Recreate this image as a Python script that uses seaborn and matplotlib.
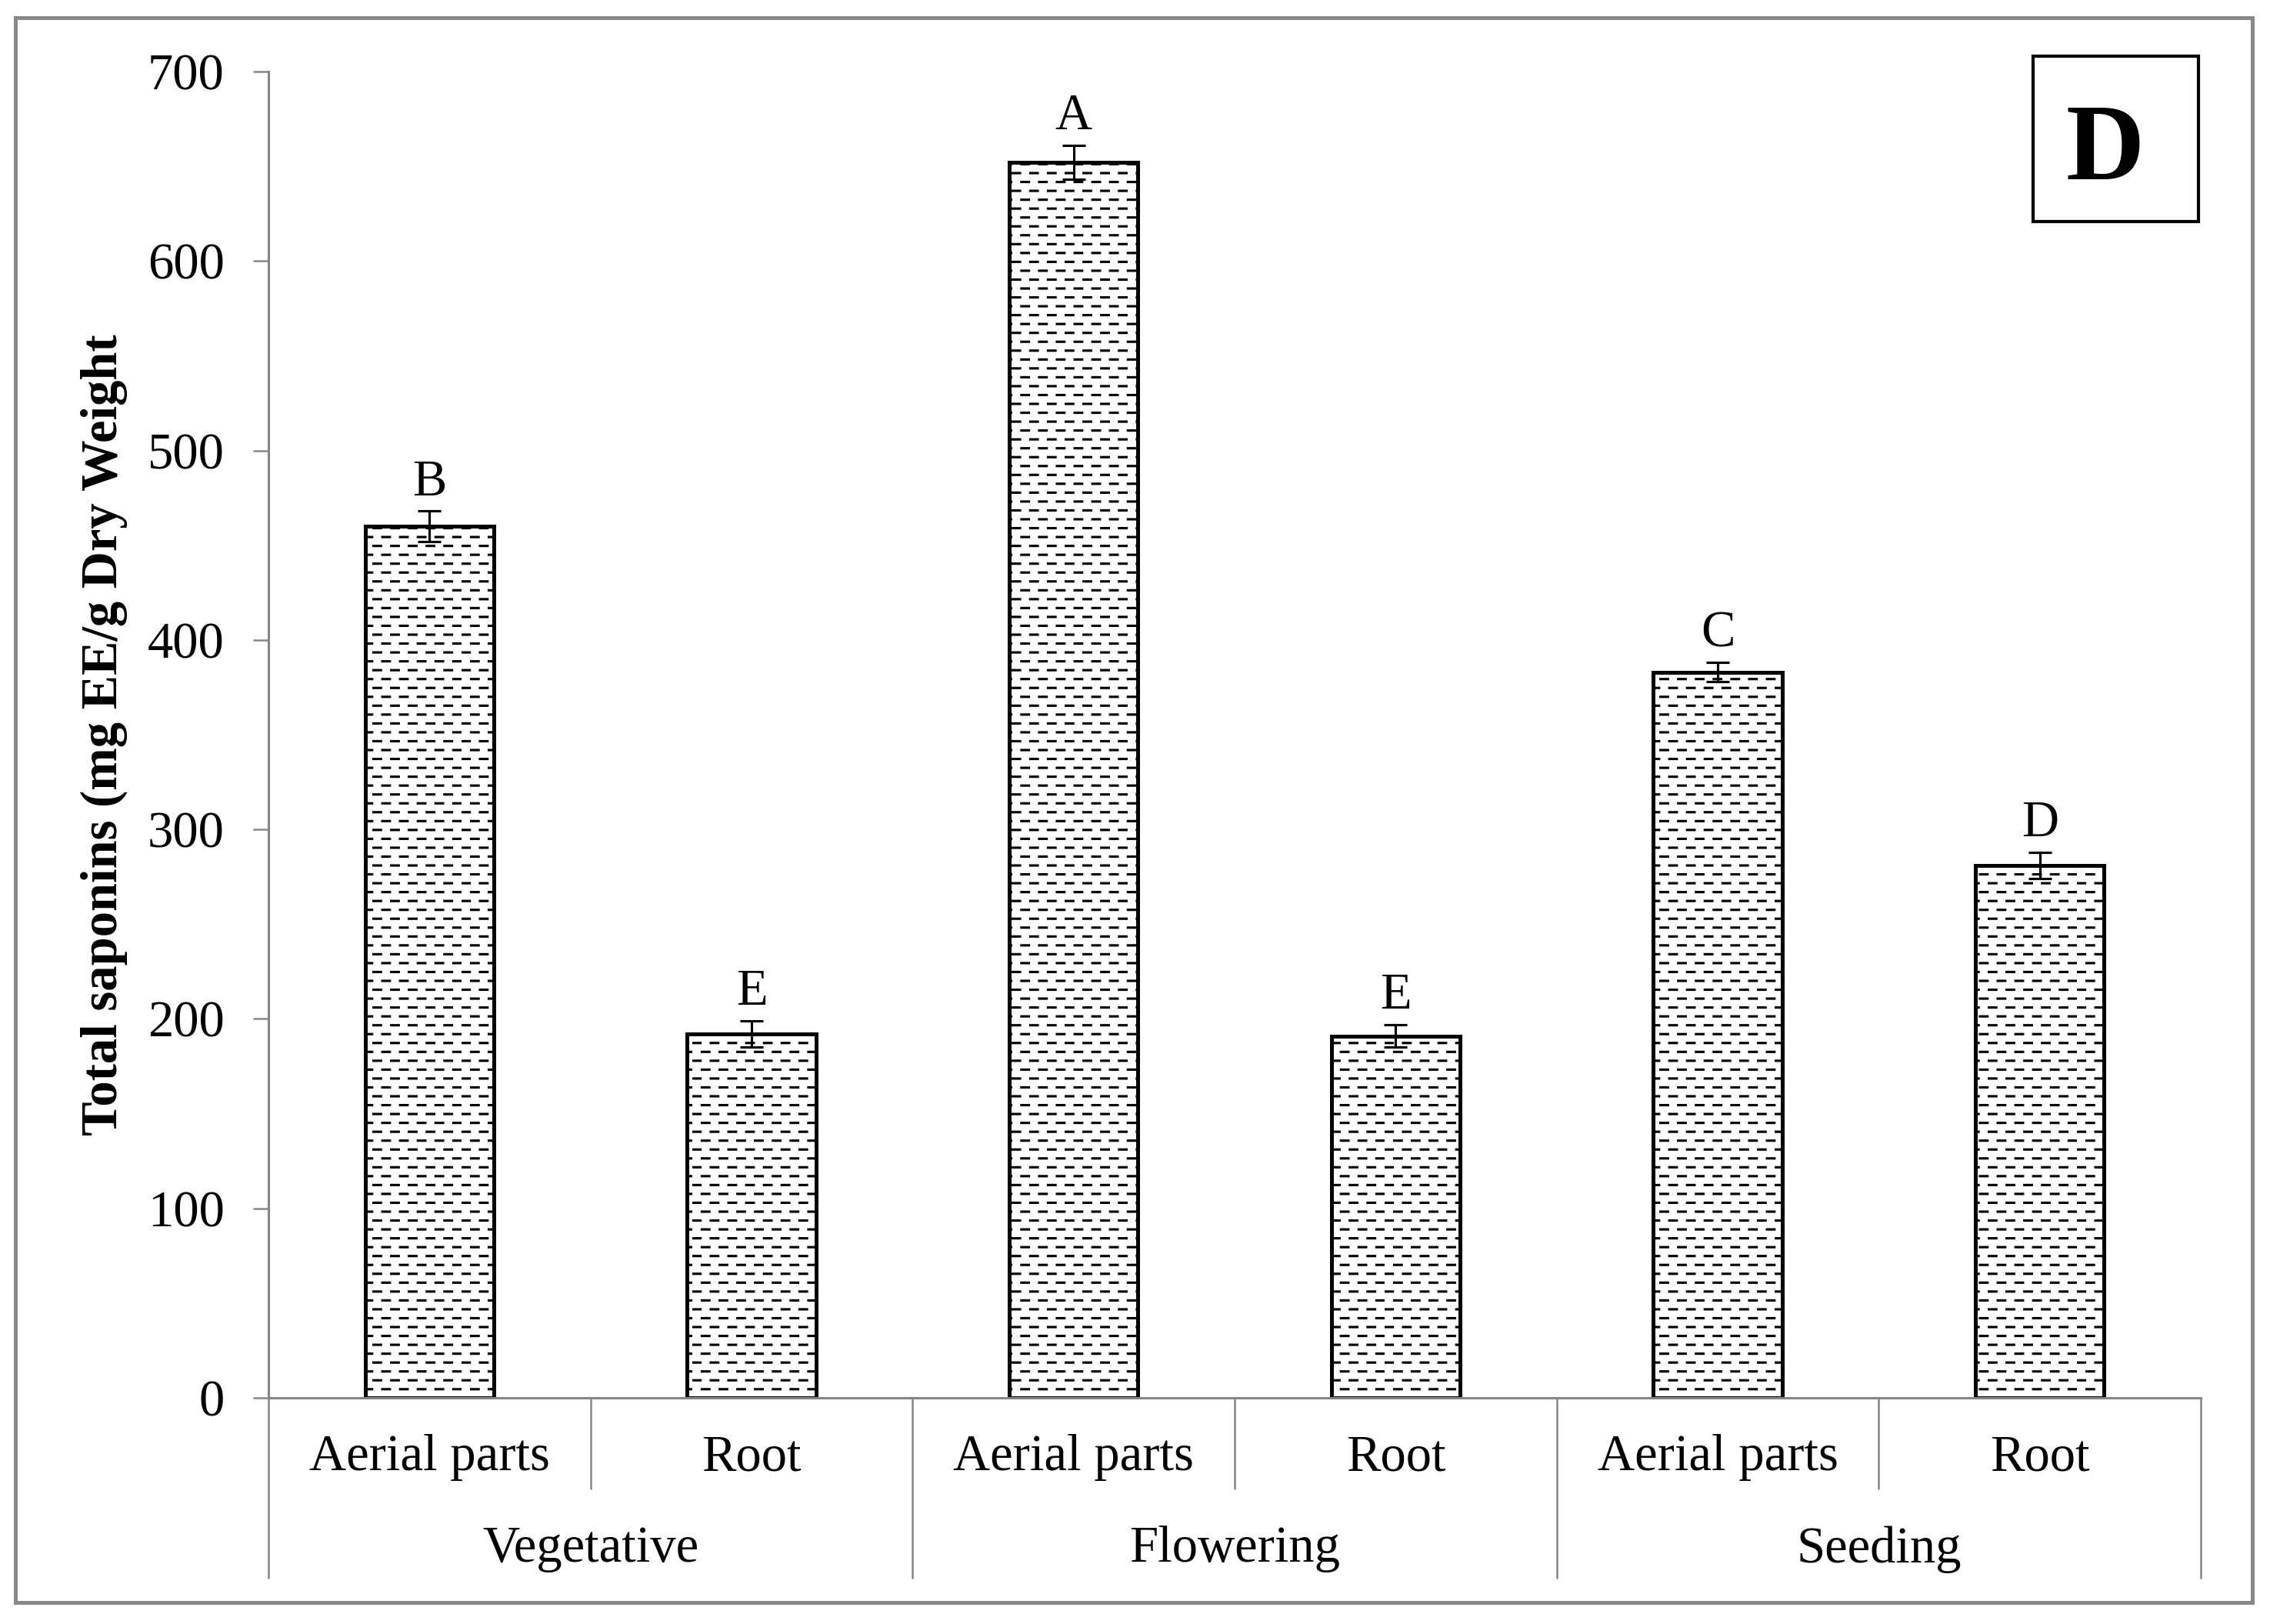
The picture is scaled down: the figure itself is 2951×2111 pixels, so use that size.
import numpy as np
import pandas as pd
import matplotlib
matplotlib.use("Agg")
import matplotlib.pyplot as plt
import matplotlib.hatch as mhatch
from matplotlib.path import Path
from matplotlib.patches import Rectangle
import seaborn as sns

# --- data ---
stages = ["Vegetative", "Flowering", "Seeding"]
parts = ["Aerial parts", "Root"]
saponins = [460, 192, 652, 191, 383, 281]
errors = [8, 7, 9, 6, 5, 7]
letters = ["B", "E", "A", "E", "C", "D"]
yticks = [0, 100, 200, 300, 400, 500, 600, 700]


# dashed-row fill like the original (replaces the plain '-' hatch)
class DashedRows(mhatch.HatchPatternBase):
    def __init__(self, hatch, density):
        self.n_rows = hatch.count('-') * 26
        self.n_dash = 13
        self.num_vertices = self.n_rows * self.n_dash * 2

    def set_vertices_and_codes(self, vertices, codes):
        k = 0
        for i in range(self.n_rows):
            y = (i + 0.5) / self.n_rows
            shift = 0.5 if i % 2 else 0.0
            for j in range(self.n_dash):
                vertices[k] = ((j + shift + 0.04) / self.n_dash, y)
                vertices[k + 1] = ((j + shift + 0.46) / self.n_dash, y)
                codes[k] = Path.MOVETO
                codes[k + 1] = Path.LINETO
                k += 2


mhatch._hatch_types[mhatch._hatch_types.index(mhatch.HorizontalHatch)] = DashedRows

sns.set_style("ticks")
plt.rcParams['font.family'] = ['Liberation Serif', 'DejaVu Serif']
plt.rcParams['hatch.linewidth'] = 0.75
plt.rcParams['hatch.color'] = 'black'
plt.rcParams['text.color'] = 'black'
plt.rcParams['axes.labelcolor'] = 'black'

df = pd.DataFrame({
    'sample': [f"{s}|{p}" for s in stages for p in parts],
    'part': [p for s in stages for p in parts],
    'saponins': saponins,
})

fig = plt.figure(figsize=(2951 / 300, 2111 / 300), dpi=300)
ax = fig.add_axes([0.1183, 0.1393, 0.8512, 0.8166])

sns.barplot(data=df, x='sample', y='saponins', color='white', saturation=1,
            edgecolor='black', linewidth=1.2, hatch='-', width=0.4,
            errorbar=None, ax=ax)

xs = [p.get_x() + p.get_width() / 2 for p in ax.patches]
ax.errorbar(xs, saponins, yerr=errors, fmt='none', ecolor='black',
            elinewidth=0.75, capsize=3.5, capthick=0.75, zorder=5)

for x, v, e, lab in zip(xs, saponins, errors, letters):
    ax.annotate(lab, (x, v + e), xytext=(0, 5), textcoords='offset points',
                ha='center', va='baseline', fontsize=16, color='black')

ax.set_ylim(0, 700)
ax.set_yticks(yticks)
ax.set_xlim(-0.5, len(saponins) - 0.5)
ax.set_xticks(range(len(saponins)))
ax.set_xticklabels(df['part'])
for lab in ax.get_xticklabels():
    lab.set_va('center')

spine_col = '#868686'
sns.despine(ax=ax)
for side in ['left', 'bottom']:
    ax.spines[side].set_color(spine_col)
    ax.spines[side].set_linewidth(0.75)
ax.tick_params(axis='y', length=4.8, width=0.6, color=spine_col, pad=9,
               labelsize=16, labelcolor='black')
ax.tick_params(axis='x', length=0, pad=18.7, labelsize=16, labelcolor='black')

ax.set_xlabel('')
ax.set_ylabel('Total saponins (mg EE/g Dry Weight', fontsize=16, fontweight='bold')
ax.yaxis.set_label_coords(-0.073, 0.5)

# category separators and stage labels under the axis
ticks = np.asarray(ax.get_xticks(), dtype=float)
trans = ax.get_xaxis_transform()
for x in ticks[0::2] + 0.5:
    ax.plot([x, x], [0, -0.0684], transform=trans, color=spine_col, lw=0.6, clip_on=False)
for x in np.r_[ticks[0::2] - 0.5, ticks[-1] + 0.5]:
    ax.plot([x, x], [0, -0.1357], transform=trans, color=spine_col, lw=0.6, clip_on=False)
for i, s in enumerate(stages):
    ax.text(ticks[2 * i:2 * i + 2].mean(), -0.1143, s, transform=trans,
            ha='center', va='center', fontsize=16, color='black')

# panel letter box
fig.patches.append(Rectangle((0.8956, 0.8636), 0.0729, 0.1018, transform=fig.transFigure,
                             fill=False, edgecolor='black', linewidth=1.0))
fig.text(0.9275, 0.8896, 'D', ha='center', va='baseline', fontsize=34, fontweight='bold')

# outer frame
fig.patches.append(Rectangle((0.0068, 0.0133), 0.9854, 0.9758, transform=fig.transFigure,
                             fill=False, edgecolor='#888888', linewidth=1.2))

fig.savefig('out.png', dpi=300)
